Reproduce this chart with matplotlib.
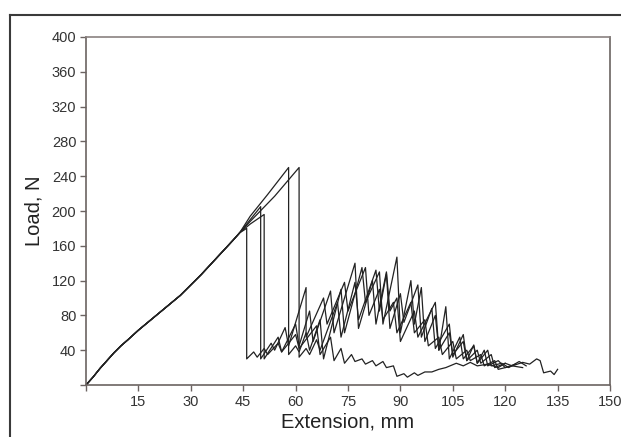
import numpy as np
import matplotlib.pyplot as plt
from matplotlib.lines import Line2D

plt.rcParams['font.family'] = ['Liberation Sans', 'DejaVu Sans']

# shared loading branch (extension mm, load N)
load_x = [0, 2, 4, 6, 8, 10, 12, 15, 18, 21, 24, 27, 30, 33, 36, 39, 42, 44]
load_y = [0, 9, 19, 28, 37, 45, 52, 63, 73, 83, 93, 103, 115, 127, 140, 153, 166, 175]

# specimen A: breaks at 46 mm, low tail
a_x = [46, 46, 48, 49, 51, 52, 55, 56, 60, 61, 66, 67, 70, 71, 73, 74, 76, 77, 79, 80,
       82, 83, 85, 86, 88, 89, 91, 92, 94, 95, 97, 99, 101, 103, 106, 108, 110, 112,
       115, 118, 120, 122, 125, 127, 129, 130, 131, 133, 134, 135]
a_y = [180, 30, 38, 32, 42, 35, 48, 38, 58, 42, 68, 35, 55, 28, 42, 25, 35, 27, 30, 24,
       28, 22, 27, 20, 22, 10, 13, 9, 14, 11, 15, 15, 18, 20, 25, 22, 26, 22,
       24, 20, 25, 22, 26, 24, 30, 28, 14, 16, 12, 18]

# specimen B: breaks at 50 mm
b_x = [47, 50, 50, 53, 54, 57, 58, 63, 63, 68, 69, 74, 75, 80, 81, 84, 85, 88, 89,
       93, 94, 97, 98, 101, 102, 105, 106, 109, 110, 113, 114, 117, 118, 122, 125]
b_y = [190, 205, 30, 48, 40, 66, 45, 112, 55, 100, 70, 118, 85, 135, 80, 110, 75, 95, 60,
       95, 60, 75, 45, 55, 35, 50, 30, 40, 28, 35, 22, 28, 18, 22, 20]

# specimen C: breaks at 51 mm
c_x = [47, 51, 51, 55, 56, 60, 61, 64, 65, 70, 71, 77, 78, 82, 83, 86, 87, 89, 90,
       94, 95, 100, 101, 104, 105, 108, 109, 112, 113, 116, 117, 120]
c_y = [185, 196, 30, 55, 38, 70, 45, 85, 50, 108, 60, 140, 65, 120, 70, 130, 85, 100, 50,
       85, 55, 95, 40, 60, 35, 50, 28, 40, 25, 35, 20, 25]

# specimen D: breaks at 58 mm
d_x = [47, 52, 58, 58, 60, 61, 63, 64, 67, 68, 73, 74, 79, 80, 84, 85, 89, 90, 93, 94,
       96, 97, 100, 101, 103, 104, 107, 108, 111, 112, 115, 116, 119, 121, 124, 126]
d_y = [194, 219, 250, 35, 45, 38, 60, 40, 75, 30, 110, 60, 135, 95, 130, 70, 147, 60, 120, 70,
       112, 50, 80, 40, 90, 30, 55, 30, 45, 25, 40, 22, 25, 20, 27, 22]

# specimen E: breaks at 61 mm
e_x = [47, 54, 61, 61, 63, 64, 66, 67, 72, 73, 77, 78, 83, 84, 86, 87, 90, 91, 95, 96,
       99, 100, 104, 105, 108, 109, 111, 112, 114, 115, 118, 120, 123]
e_y = [188, 217, 250, 32, 42, 35, 52, 40, 95, 55, 118, 75, 132, 85, 128, 65, 105, 72, 115, 55,
       88, 42, 70, 32, 58, 28, 46, 25, 40, 22, 28, 20, 24]

specimens = [(a_x, a_y), (b_x, b_y), (c_x, c_y), (d_x, d_y), (e_x, e_y)]

fig = plt.figure(figsize=(6.21, 4.37), dpi=100)
ax = fig.add_axes([86 / 621, 1 - 385 / 437, (610 - 86) / 621, (385 - 37) / 437])

for sx, sy in specimens:
    ax.plot(load_x + sx, load_y + sy, color='#222222', lw=0.9)

ax.set_xlim(0, 150)
ax.set_ylim(0, 400)
xt = np.arange(0, 151, 15)
ax.set_xticks(xt)
ax.set_xticklabels([''] + [str(v) for v in xt[1:]])
yt = np.arange(0, 401, 40)
ax.set_yticks(yt)
ax.set_yticklabels([''] + [str(v) for v in yt[1:]])

spc = '#6b6361'
for s in ax.spines.values():
    s.set_color(spc)
    s.set_linewidth(1.2)
ax.spines['top'].set_color('#8a8280')
ax.tick_params(direction='out', length=4, width=1, color=spc,
               labelsize=10.5, labelcolor='#333333', pad=3)

ax.set_xlabel('Extension, mm', fontsize=14.5, color='#222222', labelpad=3)
ax.set_ylabel('Load, N', fontsize=14.5, color='#222222', labelpad=6)

# outer frame of the scanned figure
fig.add_artist(Line2D([10 / 621, 1.0], [1 - 15 / 437, 1 - 15 / 437],
                      transform=fig.transFigure, color='#3a3a3a', lw=1.5))
fig.add_artist(Line2D([10 / 621, 10 / 621], [0, 1 - 15 / 437],
                      transform=fig.transFigure, color='#3a3a3a', lw=1.5))

fig.savefig('out.png', dpi=100)
